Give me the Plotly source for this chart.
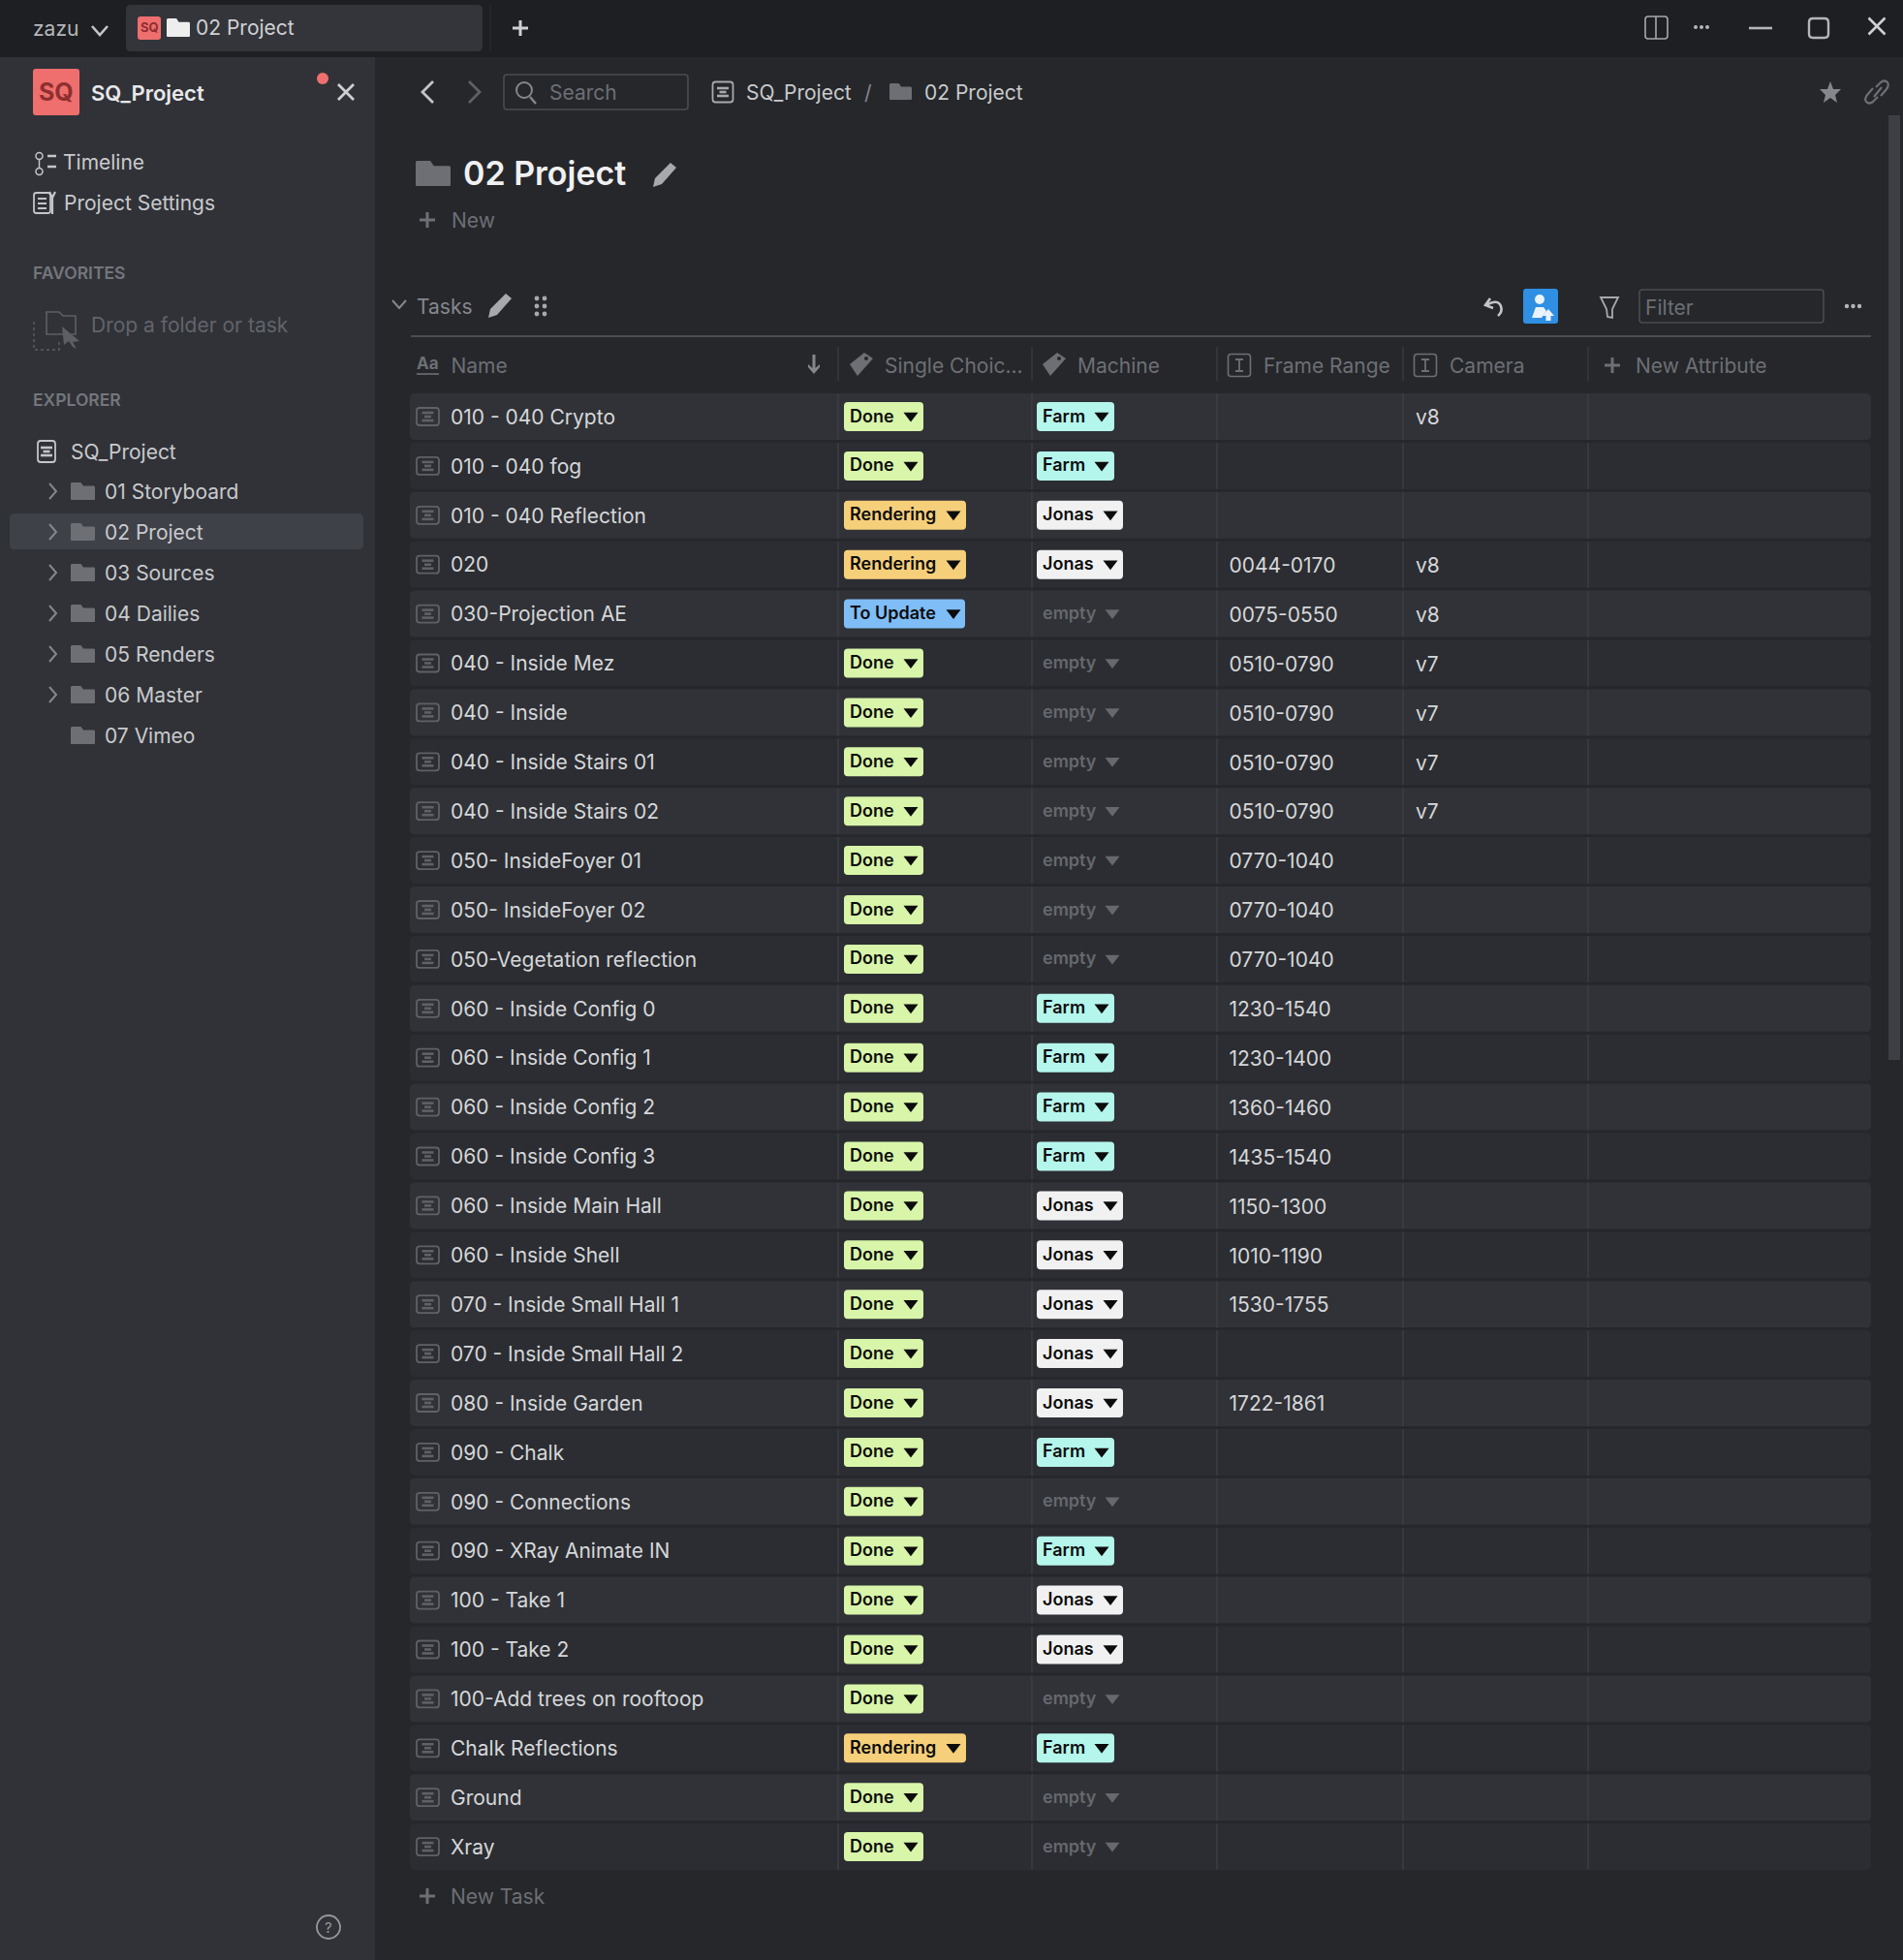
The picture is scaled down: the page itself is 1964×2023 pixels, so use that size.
import plotly.graph_objects as go

# table content
names = ["010 - 040 Crypto", "010 - 040 fog", "010 - 040 Reflection", "020", "030-Projection AE",
         "040 - Inside Mez", "040 - Inside", "040 - Inside Stairs 01", "040 - Inside Stairs 02",
         "050- InsideFoyer 01", "050- InsideFoyer 02", "050-Vegetation reflection",
         "060 - Inside Config 0", "060 - Inside Config 1", "060 - Inside Config 2", "060 - Inside Config 3",
         "060 - Inside Main Hall", "060 - Inside Shell", "070 - Inside Small Hall 1", "070 - Inside Small Hall 2",
         "080 - Inside Garden", "090 - Chalk", "090 - Connections", "090 - XRay Animate IN",
         "100 - Take 1", "100 - Take 2", "100-Add trees on rooftoop", "Chalk Reflections", "Ground", "Xray"]
status = ["Done", "Done", "Rendering", "Rendering", "To Update"] + ["Done"] * 22 + ["Rendering", "Done", "Done"]
machine = ["Farm", "Farm", "Jonas", "Jonas"] + ["empty"] * 8 + ["Farm"] * 4 + ["Jonas"] * 5 + \
          ["Farm", "empty", "Farm", "Jonas", "Jonas", "empty", "Farm", "empty", "empty"]
frame_range = ["", "", "", "0044-0170", "0075-0550", "0510-0790", "0510-0790", "0510-0790", "0510-0790",
               "0770-1040", "0770-1040", "0770-1040", "1230-1540", "1230-1400", "1360-1460", "1435-1540",
               "1150-1300", "1010-1190", "1530-1755", "", "1722-1861"] + [""] * 9
camera = ["v8", "", "", "v8", "v8", "v7", "v7", "v7", "v7"] + [""] * 21

columns = ["Name", "Single Choic...", "Machine", "Frame Range", "Camera", "New Attribute"]
folders = ["01 Storyboard", "02 Project", "03 Sources", "04 Dailies", "05 Renders", "06 Master", "07 Vimeo"]

FONT = "Inter"
W, H = 1964, 2023
ROW_Y0, ROW_STEP = 430, 50.9
TEXT_DY = 2.5
rows_y = [ROW_Y0 + i * ROW_STEP for i in range(len(names))]
col_sep = [865, 1065, 1256, 1448, 1639]

pill_color = {"Done": "#d8f5a9", "Rendering": "#f6cf7b", "To Update": "#7fbdf6",
              "Farm": "#b5f6ec", "Jonas": "#f1f1f1"}
pill_right = {"Done": 953, "Rendering": 997, "To Update": 996, "Farm": 1150, "Jonas": 1159}
arrow_x = {"Done": 940, "Rendering": 984, "To Update": 984, "Farm": 1137, "Jonas": 1146, "empty": 1148}

shapes = []
annotations = []


def rrect(x0, y0, x1, y1, r=0, fill=None, line=None, lw=1.5):
    p = (f"M{x0+r},{y0} L{x1-r},{y0} Q{x1},{y0} {x1},{y0+r} L{x1},{y1-r} Q{x1},{y1} {x1-r},{y1} "
         f"L{x0+r},{y1} Q{x0},{y1} {x0},{y1-r} L{x0},{y0+r} Q{x0},{y0} {x0+r},{y0} Z")
    shapes.append(dict(type="path", path=p, xref="x", yref="y", fillcolor=fill or "rgba(0,0,0,0)", layer="below",
                       line=dict(color=line or "rgba(0,0,0,0)", width=lw if line else 0)))


def stroke(p, color, lw=2.0):
    shapes.append(dict(type="path", path=p, xref="x", yref="y", layer="below", line=dict(color=color, width=lw)))


def solid(p, color):
    shapes.append(dict(type="path", path=p, xref="x", yref="y", fillcolor=color, layer="below", line=dict(width=0)))


def dot(x, y, r, color):
    shapes.append(dict(type="circle", xref="x", yref="y", x0=x - r, x1=x + r, y0=y - r, y1=y + r,
                       fillcolor=color, layer="below", line=dict(width=0)))


def ring(x, y, r, color, lw=1.6):
    shapes.append(dict(type="circle", xref="x", yref="y", x0=x - r, x1=x + r, y0=y - r, y1=y + r,
                       layer="below", line=dict(color=color, width=lw)))


def label(x, y, s, size=21, color="#d6d7d9", weight=400, anchor="left"):
    # annotations sit about 2.5px to the right of their anchor
    xx = x - 2.5 if anchor == "left" else x
    annotations.append(dict(x=xx, y=y, xref="x", yref="y", text=s, showarrow=False, xanchor=anchor, yanchor="middle",
                            font=dict(family=FONT, size=size, color=color, weight=weight)))


def folder(x0, y0, x1, y1, color):
    m = y0 + (y1 - y0) * 0.2
    solid(f"M{x0+1},{y0} L{x0+(x1-x0)*.42},{y0} L{x0+(x1-x0)*.52},{m} L{x1-1},{m} Q{x1},{m} {x1},{m+2} "
          f"L{x1},{y1-1} Q{x1},{y1} {x1-1},{y1} L{x0+1},{y1} Q{x0},{y1} {x0},{y1-1} L{x0},{y0+1} Z", color)


def doc_icon(cx, cy, color, w=23, h=18):
    rrect(cx - w / 2, cy - h / 2, cx + w / 2, cy + h / 2, 3, None, color, 1.8)
    for dy, hw in ((-4, 6), (0, 3.5), (4, 6)):
        stroke(f"M{cx-hw},{cy+dy} L{cx+hw},{cy+dy}", color, 2.6)


def plus(cx, cy, s, color, lw=3):
    stroke(f"M{cx-s},{cy} L{cx+s},{cy} M{cx},{cy-s} L{cx},{cy+s}", color, lw)


def cross(cx, cy, s, color, lw=3):
    stroke(f"M{cx-s},{cy-s} L{cx+s},{cy+s} M{cx-s},{cy+s} L{cx+s},{cy-s}", color, lw)


def pencil(cx, cy, color):
    solid(f"M{cx-12},{cy+12} L{cx-10},{cy+3} L{cx+6},{cy-13} L{cx+12},{cy-8} L{cx-3},{cy+9} Z", color)


def tag(cx, cy, color):
    solid(f"M{cx-12},{cy} L{cx+3},{cy-12} L{cx+12},{cy-6} L{cx-4},{cy+12} Z", color)
    dot(cx + 5, cy - 6, 2, "#25272b")


def ibeam(cx, cy, color):
    rrect(cx - 11.5, cy - 11.5, cx + 11.5, cy + 11.5, 3, None, color, 1.6)
    stroke(f"M{cx-4},{cy-6} L{cx+4},{cy-6} M{cx},{cy-6} L{cx},{cy+6} M{cx-4},{cy+6} L{cx+4},{cy+6}", color, 1.8)


# backgrounds
rrect(0, 0, W, 59, 0, "#1d1f22")
rrect(0, 59, 387, H, 0, "#303238")
rrect(387, 59, W, H, 0, "#25272b")

# top bar
label(34, 29, "zazu", 21, "#b5b6b9")
stroke("M95,27 L103,36 L111,27", "#c4c5c8", 2.6)
rrect(130, 5, 498, 53, 5, "#33353b")
rrect(142, 17, 166, 41, 3, "#ef6f6e")
label(154, 28, "SQ", 13, "#8f2f30", 700, "center")
folder(172, 19, 196, 38, "#eeeeee")
label(202, 28, "02 Project", 21, "#cfd0d2")
stroke("M506,5 L506,53", "#2c2e32", 1)
plus(537, 29, 8, "#cfd0d2", 3)
rrect(1698, 17, 1721, 40, 3, None, "#a8a9ac", 1.6)
stroke("M1709,17 L1709,40", "#a8a9ac", 1.6)
for x in (1750, 1756, 1762):
    dot(x, 28, 2, "#b5b6b9")
stroke("M1805,29 L1829,29", "#b5b6b9", 2.6)
rrect(1867, 19, 1887, 39, 4, None, "#b5b6b9", 2.4)
cross(1937, 27, 8.5, "#cfd0d2", 2.6)

# sidebar
rrect(34, 71, 82, 119, 3, "#ef6f6e")
label(58, 95, "SQ", 25, "#8f2f30", 700, "center")
label(94, 96, "SQ_Project", 22, "#e8e8ea", 600)
dot(333, 81, 6, "#ef6f6e")
cross(357, 95, 8, "#cfd0d2", 2.8)
# timeline icon
ring(40.5, 161, 3.5, "#c4c5c8", 1.5)
ring(40.5, 177, 3.5, "#c4c5c8", 1.5)
stroke("M40.5,164 L40.5,173", "#c4c5c8", 1.5)
stroke("M49,161 L58,161 M49,172 L58,172", "#c4c5c8", 2.4)
label(65, 167, "Timeline", 21, "#c9cacc")
rrect(35, 199, 52, 220, 2.5, None, "#c4c5c8", 1.8)
stroke("M39,205 L48,205 M39,210 L48,210 M39,215 L48,215", "#c4c5c8", 2)
stroke("M54,204 L54,221 M51,198 L54,204 L57,198", "#c4c5c8", 2.2)
label(66, 209, "Project Settings", 21, "#c9cacc")
label(34, 281, "FAVORITES", 17.5, "#74767b", 600)
stroke("M48,345 L48,322 L61,322 L65,326 L78,326 L78,345 Z", "#5d5f65", 1.6)
stroke("M35,332 L35,361 L61,361 L61,350", "#5d5f65", 1.4)
shapes[-1]["line"]["dash"] = "dot"
solid("M64,337 L82,352 L75,353 L79,360 L75,358 L71,352 L66,356 Z", "#5d5f65")
label(94, 335, "Drop a folder or task", 21, "#62646a")
label(34, 412.5, "EXPLORER", 17.5, "#74767b", 600)
doc_icon(48, 466, "#c4c5c8", 18, 22)
label(73, 466, "SQ_Project", 21, "#c9cacc")
rrect(10, 530, 375, 567, 5, "#3f4149")
for i, f in enumerate(folders):
    fy = 507 + i * 42
    folder(73, fy - 9, 98, fy + 9, "#6d6f75")
    label(108, fy, f, 21, "#c9cacc")
    if i < 6:
        stroke(f"M51,{fy-8} L58,{fy} L51,{fy+8}", "#85878c", 2)
ring(339, 1989, 12, "#96989c", 1.8)
label(339, 1989, "?", 15, "#96989c", 400, "center")

# nav bar
stroke("M447,84 L436,95 L447,106", "#c4c5c8", 2.8)
stroke("M484,84 L495,95 L484,106", "#5e6065", 2.8)
rrect(520, 77, 710, 113, 3, None, "#4a4c52", 1.6)
ring(541, 93, 8, "#85878c", 2)
stroke("M547,100 L553,107", "#85878c", 2.4)
label(567, 95, "Search", 21, "#6d6f74")
doc_icon(746, 95, "#a8a9ac", 21, 21)
label(770, 95, "SQ_Project", 21, "#c9cacc")
label(896, 95, "/", 21, "#85878c", 400, "center")
folder(918, 86, 941, 103, "#6d6f75")
label(954, 95, "02 Project", 21, "#c9cacc")
solid("M1889,84 L1892,92 L1900,92 L1894,98 L1896,106 L1889,101 L1882,106 L1884,98 L1878,92 L1886,92 Z", "#85878c")
# link icon
stroke("M1936,90 L1941,85 Q1945,82 1948,85 Q1950,88 1947,92 L1941,99", "#6d6f75", 2.2)
stroke("M1938,100 L1933,105 Q1929,108 1926,105 Q1924,102 1927,98 L1933,91", "#6d6f75", 2.2)
stroke("M1934,100 L1942,90", "#6d6f75", 2.2)
rrect(1949, 119, 1961, 1094, 0, "#3d3f45")

# title
folder(429, 166, 465, 192, "#6d6f75")
label(478, 178, "02 Project", 34, "#f0f0f1", 600)
pencil(686, 181, "#a8a9ac")
plus(441, 227, 8, "#6d6f74", 3)
label(466, 227, "New", 21, "#6d6f74")

# tasks toolbar
stroke("M405,310 L412,318 L419,310", "#85878c", 2)
label(430, 316, "Tasks", 21, "#85878c")
pencil(516, 316, "#a8a9ac")
for dx in (-4, 4):
    for dy in (-8, 0, 8):
        dot(558 + dx, 316 + dy, 2.4, "#a8a9ac")
stroke("M1538,308 L1533,315 L1541,318 M1534,315 Q1546,308 1549,316 Q1551,322 1546,326", "#c4c5c8", 2.6)
rrect(1572, 298, 1608, 334, 3, "#2f8fe3")
dot(1589, 309, 5, "#eaf3fb")
solid("M1581,328 L1585,317 L1593,317 L1596,321 L1591,328 Z", "#eaf3fb")
solid("M1598,319 L1604,326 L1600.5,326 L1600.5,331 L1595.5,331 L1595.5,326 L1592,326 Z", "#eaf3fb")
stroke("M1652,307 L1670,307 L1664,319 L1664,328 L1659,327 L1658,319 Z", "#a8a9ac", 1.8)
rrect(1692, 299, 1882, 333, 3, None, "#4a4c52", 1.6)
label(1698, 317, "Filter", 21, "#6d6f74")
for x in (1906, 1912.5, 1919):
    dot(x, 316, 2.2, "#b5b6b9")
stroke("M424,347 L1931,347", "#4a4c52", 2)

# header row
header_x = [465.5, 913, 1112, 1304, 1496, 1688]
label(441, 375, "Aa", 17, "#6d6f74", 700, "center")
stroke("M430,386 L453,386", "#6d6f74", 1.6)
solid("M838.5,366 L841.5,366 L841.5,380 L846,376 L846,379 L840,386 L834,379 L834,376 L838.5,380 Z", "#85878c")
tag(889, 376, "#6d6f74")
tag(1088, 376, "#6d6f74")
ibeam(1279, 377, "#6d6f74")
ibeam(1471, 377, "#6d6f74")
plus(1664, 377, 8, "#6d6f74", 3)
for x in col_sep:
    stroke(f"M{x},358 L{x},393", "#3d3f45", 1.2)

# rows
for i, y in enumerate(rows_y):
    rrect(423, y - 24, 1931, y + 24, 5, "#303237" if i % 2 == 0 else "#2b2d32")
    for x in col_sep:
        stroke(f"M{x},{y-24} L{x},{y+24}", "#3f4147", 1.2)
    doc_icon(441.5, y, "#5f6167")
    rrect(871, y - 15, pill_right[status[i]], y + 15, 4, pill_color[status[i]])
    if machine[i] != "empty":
        rrect(1070, y - 15, pill_right[machine[i]], y + 15, 4, pill_color[machine[i]])

fig = go.Figure()


def text_col(xs, ys, texts, size, color, weight=400, name="", dy=TEXT_DY):
    fig.add_trace(go.Scatter(x=xs, y=[v + dy for v in ys], text=texts, mode="text", textposition="middle right",
                             name=name, hoverinfo="skip",
                             textfont=dict(family=FONT, size=size, color=color, weight=weight)))


text_col(header_x, [377] * 6, columns, 21, "#6d6f74", name="header")
text_col([465] * len(names), rows_y, names, 21, "#d6d7d9", name="name")
text_col([877] * len(names), rows_y, status, 18, "#0c0c0c", 600, name="status", dy=1)
mach_y = [y for y, m in zip(rows_y, machine) if m != "empty"]
text_col([1076] * len(mach_y), mach_y, [m for m in machine if m != "empty"], 18, "#0c0c0c", 600, name="machine", dy=1)
empty_y = [y for y, m in zip(rows_y, machine) if m == "empty"]
text_col([1076] * len(empty_y), empty_y, ["empty"] * len(empty_y), 18, "#66686d", 600, name="empty", dy=1)
text_col([1268.5] * len(names), rows_y, frame_range, 21, "#d6d7d9", name="frame", dy=3)
text_col([1461] * len(names), rows_y, camera, 21, "#d6d7d9", name="camera", dy=3)

# dropdown arrows
fig.add_trace(go.Scatter(x=[arrow_x[s] for s in status], y=[y - 1 for y in rows_y], mode="markers", hoverinfo="skip",
                         marker=dict(symbol="triangle-down", size=13, color="#0c0c0c", line=dict(width=0))))
fig.add_trace(go.Scatter(x=[arrow_x[m] for m in machine], y=[y - 1 for y in rows_y], mode="markers", hoverinfo="skip",
                         marker=dict(symbol="triangle-down", size=13, line=dict(width=0),
                                     color=["#66686d" if m == "empty" else "#0c0c0c" for m in machine])))

plus(441, 1957, 8, "#6d6f74", 3)
label(465, 1957, "New Task", 21, "#6d6f74")

fig.update_layout(width=W, height=H, margin=dict(l=0, r=0, t=0, b=0), showlegend=False,
                  paper_bgcolor="#25272b", plot_bgcolor="#25272b", shapes=shapes, annotations=annotations,
                  xaxis=dict(range=[0, W], visible=False, fixedrange=True),
                  yaxis=dict(range=[H, 0], visible=False, fixedrange=True))
fig.write_html("out.html", config=dict(displayModeBar=False),
               post_script="document.body.style.margin='0';document.body.style.background='#25272b';")
